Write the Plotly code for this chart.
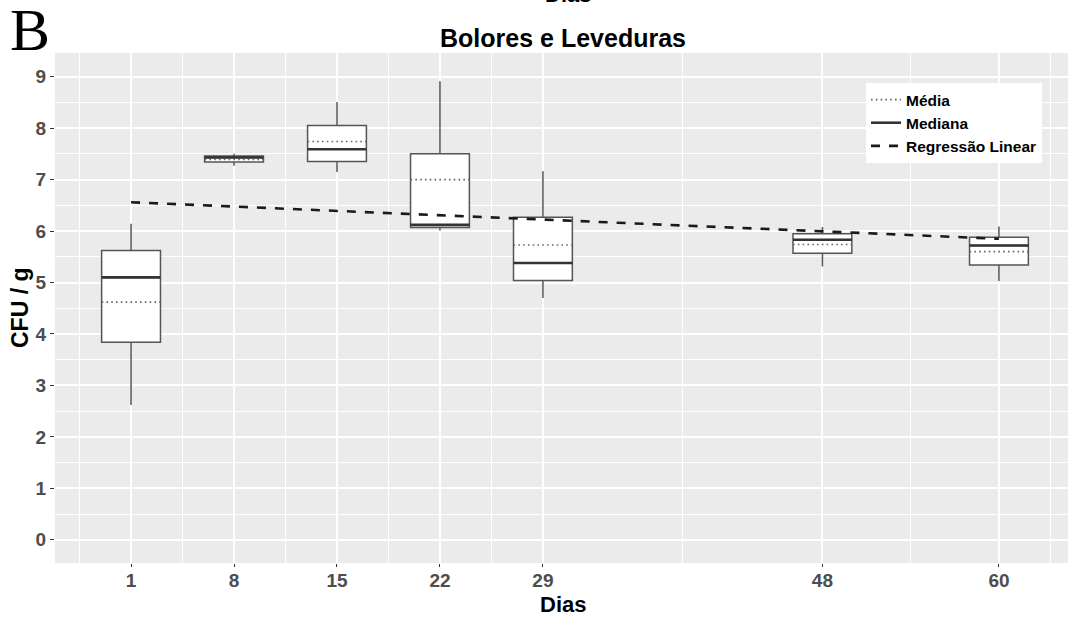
import plotly.graph_objects as go

# Sampling days and per-day box statistics (CFU / g, log scale values)
days = [1, 8, 15, 22, 29, 48, 60]
upper_whisker = [6.14, 7.50, 8.51, 8.91, 7.16, 6.08, 6.09]
q3 = [5.62, 7.46, 8.05, 7.50, 6.27, 5.95, 5.88]
medians = [5.10, 7.43, 7.59, 6.12, 5.38, 5.83, 5.72]
q1 = [3.84, 7.34, 7.35, 6.07, 5.04, 5.57, 5.34]
lower_whisker = [2.62, 7.27, 7.15, 6.01, 4.70, 5.31, 5.03]
means = [4.62, 7.39, 7.74, 7.00, 5.73, 5.74, 5.60]

# Fitted linear regression evaluated at the first and last sampling day
reg_days = [1, 60]
reg_values = [6.56, 5.85]

y_ticks = [0, 1, 2, 3, 4, 5, 6, 7, 8, 9]
y_minor = [0.5, 1.5, 2.5, 3.5, 4.5, 5.5, 6.5, 7.5, 8.5]
x_minor = [-2.5, 4.5, 11.5, 18.5, 25.5, 38.5, 54, 63.5]

BOX_W = 4.0
HALF = BOX_W / 2

W, H = 1068, 618
ML, MR, MT, MB = 55, 0, 53, 55
PW, PH = W - ML - MR, H - MT - MB


def px_x(px):
    return (px - ML) / PW


def px_y(py):
    return (H - MB - py) / PH


def segments(xs, ys):
    sx, sy = [], []
    for x, y in zip(xs, ys):
        sx += [x - HALF, x + HALF, None]
        sy += [y, y, None]
    return sx, sy


fig = go.Figure()

fig.add_trace(go.Box(
    x=days, q1=q1, median=medians, q3=q3,
    lowerfence=lower_whisker, upperfence=upper_whisker,
    width=BOX_W, whiskerwidth=0,
    fillcolor="white",
    line=dict(color="#555555", width=1.5),
    boxpoints=False, showlegend=False, hoverinfo="skip",
))

mx, my = segments(days, means)
fig.add_trace(go.Scatter(
    x=mx, y=my, mode="lines", name="<b>Média</b>",
    line=dict(color="#666666", width=1.6, dash="1.6px,3.2px"),
))

dx, dy = segments(days, medians)
fig.add_trace(go.Scatter(
    x=dx, y=dy, mode="lines", name="<b>Mediana</b>",
    line=dict(color="#333333", width=2.6),
))

fig.add_trace(go.Scatter(
    x=reg_days, y=reg_values, mode="lines", name="<b>Regressão Linear</b>",
    line=dict(color="#1a1a1a", width=2.6, dash="9px,9px"),
))

tick_font = dict(family="Liberation Sans, Arial, sans-serif", size=19, color="#4D4D4D")

fig.update_xaxes(
    range=[-4.17, -4.17 + PW / 14.71],
    tickmode="array", tickvals=days, ticktext=[f"<b>{d}</b>" for d in days],
    tickfont=tick_font, ticklabelstandoff=-3,
    showgrid=True, gridcolor="white", gridwidth=1.6,
    minor=dict(tickmode="array", tickvals=x_minor, showgrid=True,
               gridcolor="white", gridwidth=0.9),
    ticks="outside", ticklen=3, tickcolor="#333333", tickwidth=1,
    zeroline=False, showline=False,
)
fig.update_yaxes(
    range=[-0.45, 9.46],
    tickmode="array", tickvals=y_ticks, ticktext=[f"<b>{v}</b>" for v in y_ticks],
    tickfont=tick_font,
    showgrid=True, gridcolor="white", gridwidth=1.6,
    minor=dict(tickmode="array", tickvals=y_minor, showgrid=True,
               gridcolor="white", gridwidth=0.9),
    ticks="outside", ticklen=4, tickcolor="#333333", tickwidth=1,
    zeroline=False, showline=False,
)

title_font = dict(family="Liberation Sans, Arial, sans-serif", color="black")

fig.update_layout(
    width=W, height=H,
    margin=dict(l=ML, r=MR, t=MT, b=MB),
    paper_bgcolor="white", plot_bgcolor="#EBEBEB",
    title=dict(text="<b>Bolores e Leveduras</b>", x=563 / W, xanchor="center",
               y=1 - 38 / H, yanchor="middle", font=dict(size=25, **title_font)),
    legend=dict(
        x=px_x(866), y=px_y(83), xanchor="left", yanchor="top",
        bgcolor="white", borderwidth=0,
        font=dict(family="Liberation Sans, Arial, sans-serif", size=15.5, color="black"),
        itemwidth=30, tracegroupgap=0,
    ),
    annotations=[
        dict(text="<b>Dias</b>", xref="paper", yref="paper",
             x=px_x(563), y=px_y(604), xanchor="center", yanchor="middle",
             showarrow=False, font=dict(size=22, **title_font)),
        dict(text="<b>CFU / g</b>", xref="paper", yref="paper",
             x=px_x(20), y=px_y(308), xanchor="center", yanchor="middle",
             textangle=-90, showarrow=False, font=dict(size=23, **title_font)),
        dict(text="<b>Dias</b>", xref="paper", yref="paper",
             x=px_x(568), y=px_y(-5), xanchor="center", yanchor="middle",
             showarrow=False, font=dict(size=22, **title_font)),
        dict(text="B", xref="paper", yref="paper",
             x=px_x(8), y=px_y(30), xanchor="left", yanchor="middle",
             showarrow=False,
             font=dict(family="Liberation Serif, Times New Roman, serif",
                       size=60, color="black")),
    ],
)

fig.write_html("out.html")
